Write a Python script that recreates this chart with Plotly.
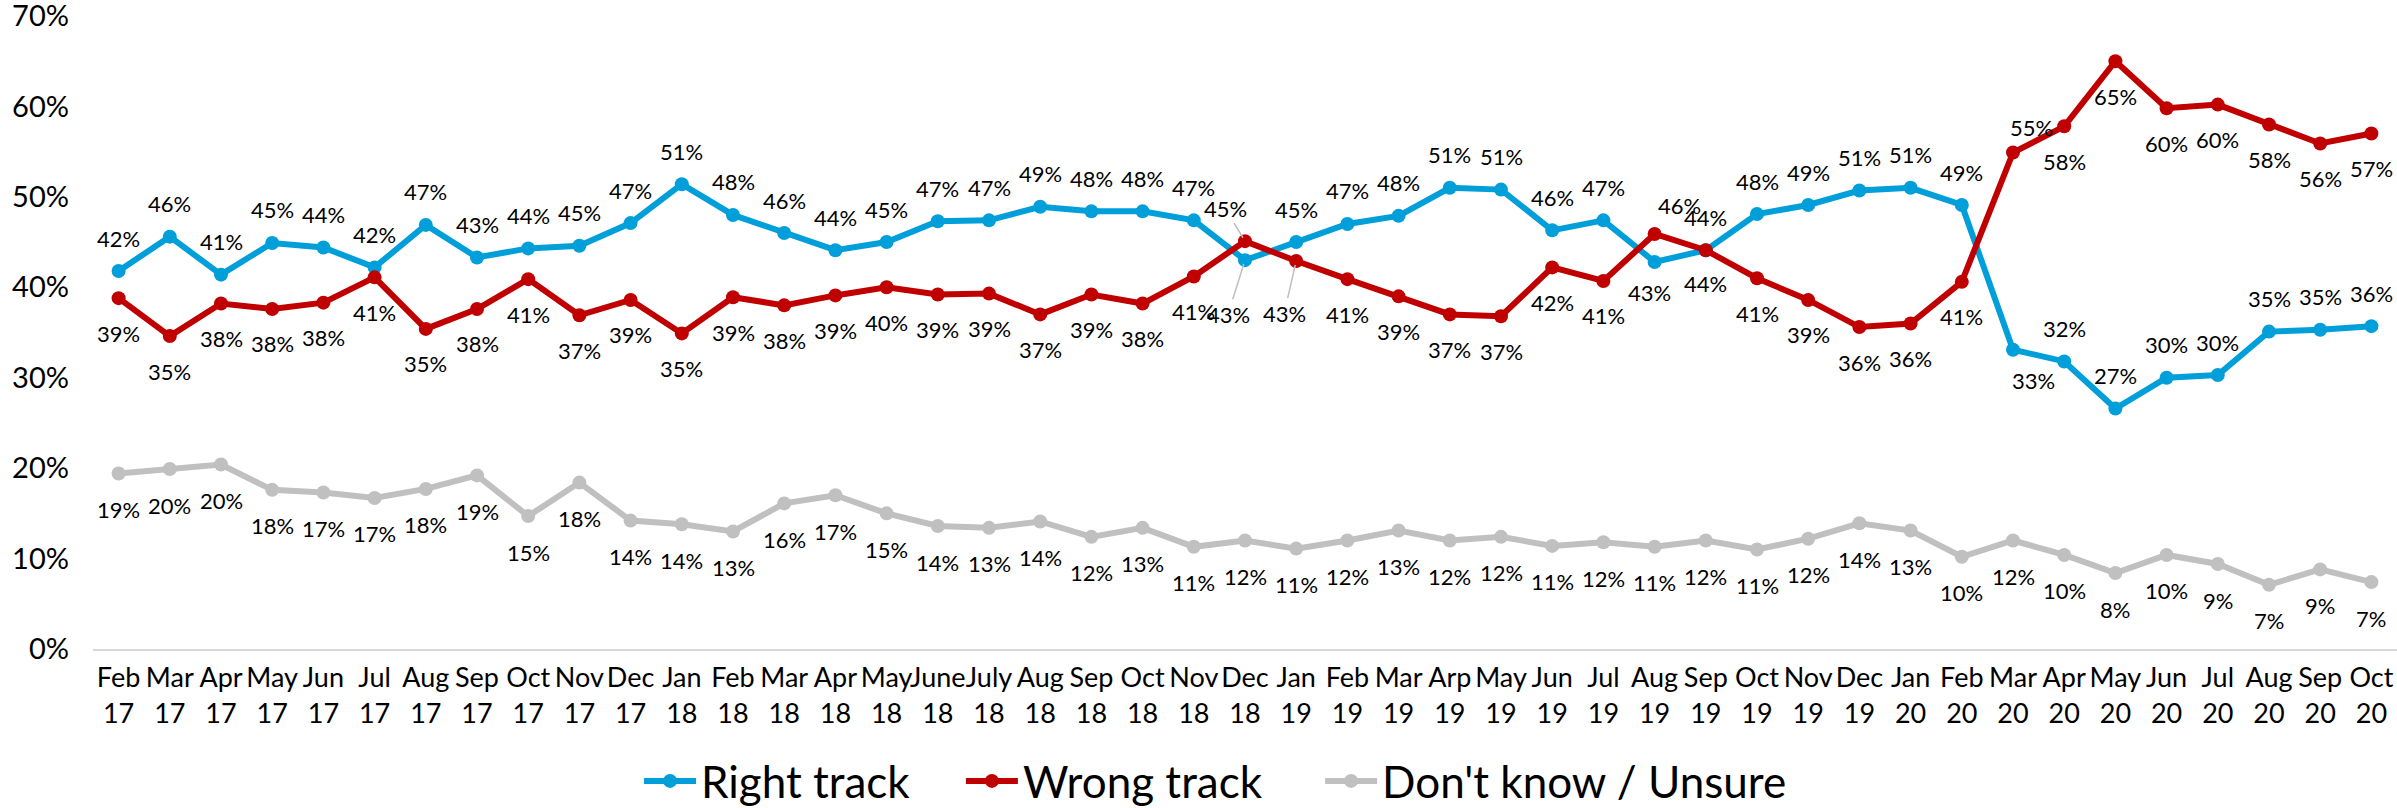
import plotly.graph_objects as go

# ---------------- data ----------------
months = ["Feb", "Mar", "Apr", "May", "Jun", "Jul", "Aug", "Sep", "Oct", "Nov", "Dec",
          "Jan", "Feb", "Mar", "Apr", "May", "June", "July", "Aug", "Sep", "Oct", "Nov", "Dec",
          "Jan", "Feb", "Mar", "Arp", "May", "Jun", "Jul", "Aug", "Sep", "Oct", "Nov", "Dec",
          "Jan", "Feb", "Mar", "Apr", "May", "Jun", "Jul", "Aug", "Sep", "Oct"]
years = ["17"] * 11 + ["18"] * 12 + ["19"] * 12 + ["20"] * 10

right_track = [41.8, 45.6, 41.4, 44.9, 44.4, 42.2, 46.9, 43.3, 44.3, 44.6, 47.1,
               51.4, 48.0, 46.0, 44.1, 45.0, 47.3, 47.4, 48.9, 48.4, 48.4, 47.4, 43.0,
               45.0, 47.0, 47.9, 51.0, 50.8, 46.3, 47.4, 42.8, 44.1, 48.1, 49.1, 50.7,
               51.0, 49.1, 33.1, 31.8, 26.6, 30.0, 30.3, 35.1, 35.3, 35.7]
wrong_track = [38.8, 34.6, 38.2, 37.6, 38.3, 41.1, 35.4, 37.6, 40.9, 36.9, 38.6,
               34.9, 38.9, 38.0, 39.1, 40.0, 39.2, 39.3, 37.0, 39.2, 38.2, 41.2, 45.1,
               42.9, 40.9, 39.0, 37.0, 36.8, 42.2, 40.7, 45.9, 44.1, 41.0, 38.6, 35.6,
               36.0, 40.6, 54.9, 57.8, 65.0, 59.8, 60.2, 58.0, 55.9, 57.0]
dont_know = [19.4, 19.9, 20.4, 17.6, 17.3, 16.7, 17.7, 19.2, 14.7, 18.4, 14.2,
             13.8, 13.0, 16.1, 17.0, 15.0, 13.6, 13.4, 14.1, 12.4, 13.4, 11.3, 12.0,
             11.1, 12.0, 13.1, 12.0, 12.4, 11.4, 11.8, 11.3, 12.0, 11.0, 12.2, 13.9,
             13.1, 10.2, 12.0, 10.4, 8.4, 10.4, 9.4, 7.1, 8.8, 7.4]

series_names = ["Right track", "Wrong track", "Don't know / Unsure"]

# ---------------- styling ----------------
FONT = "Lato"
BLUE = "#009FDA"
RED = "#C00000"
GRAY = "#C0C0C0"

x = list(range(len(months)))
ticktext = [f"{m}<br>{y}" for m, y in zip(months, years)]

fig = go.Figure()
series = [
    (series_names[0], right_track, BLUE, 33, "legend"),
    (series_names[1], wrong_track, RED, -35, "legend2"),
    (series_names[2], dont_know, GRAY, -36, "legend3"),
]
for name, vals, col, _, lg in series:
    fig.add_trace(go.Scatter(
        x=x, y=vals, name=name, mode="lines+markers",
        line=dict(color=col, width=6),
        marker=dict(color=col, size=14),
        cliponaxis=False, legend=lg,
    ))

# label placement overrides: (series index, point index) -> (xshift, yshift)
shift_over = {
    (0, 30): (-5, -31), (0, 31): (0, -33), (0, 37): (20, -31),
    (1, 30): (25, 28), (1, 31): (0, 33), (1, 37): (18, 25),
}
# leader-line labels: (series index, point index) -> (ax, ay) pixel offsets
leader = {
    (0, 22): (-17, 54),
    (1, 22): (-20, -33),
    (1, 23): (-12, 52),
}

annotations = []
for si, (name, vals, col, ys, _) in enumerate(series):
    for i, v in enumerate(vals):
        txt = f"{round(v)}%"
        base = dict(x=x[i], y=v, xref="x", yref="y", text=txt,
                    font=dict(family=FONT, size=22, color="#000000"))
        if (si, i) in leader:
            ax, ay = leader[(si, i)]
            annotations.append(dict(base, showarrow=True, ax=ax, ay=ay,
                                    arrowhead=0, arrowwidth=1.5, arrowcolor="#BFBFBF",
                                    standoff=4, startstandoff=0))
        else:
            xs, yy = shift_over.get((si, i), (0, ys))
            annotations.append(dict(base, showarrow=False, xshift=xs, yshift=yy,
                                    xanchor="center", yanchor="middle"))

legend_common = dict(orientation="h", yanchor="middle", y=-0.209, xanchor="left",
                     font=dict(family=FONT, size=44, color="#000000"),
                     bgcolor="rgba(0,0,0,0)", itemwidth=52)

fig.update_layout(
    width=2397, height=808,
    margin=dict(l=93, r=0, t=16, b=159, autoexpand=False),
    plot_bgcolor="white", paper_bgcolor="white",
    font=dict(family=FONT, color="#000000"),
    showlegend=True,
    legend=dict(legend_common, x=0.2370),
    legend2=dict(legend_common, x=0.3767),
    legend3=dict(legend_common, x=0.5326),
    annotations=annotations,
    xaxis=dict(
        range=[-0.5, 44.5], tickmode="array", tickvals=x, ticktext=ticktext,
        tickfont=dict(family=FONT, size=27, color="#000000"), tickangle=0,
        showgrid=False, zeroline=False, showline=True, linecolor="#D9D9D9", linewidth=2,
        ticks="", ticklabelstandoff=4, ticklabeloverflow="allow", automargin=False,
        fixedrange=True,
    ),
    yaxis=dict(
        range=[0, 70], tickmode="array", tickvals=list(range(0, 71, 10)),
        ticktext=[f"{v}%" for v in range(0, 71, 10)],
        tickfont=dict(family=FONT, size=29, color="#000000"),
        showgrid=False, zeroline=False, showline=False, ticks="",
        ticklabelstandoff=23, ticklabeloverflow="allow", automargin=False,
        fixedrange=True,
    ),
)

fig.write_html(
    "out.html",
    config={"displayModeBar": False},
    post_script="document.body.style.margin='0';document.body.style.overflow='hidden';",
)
